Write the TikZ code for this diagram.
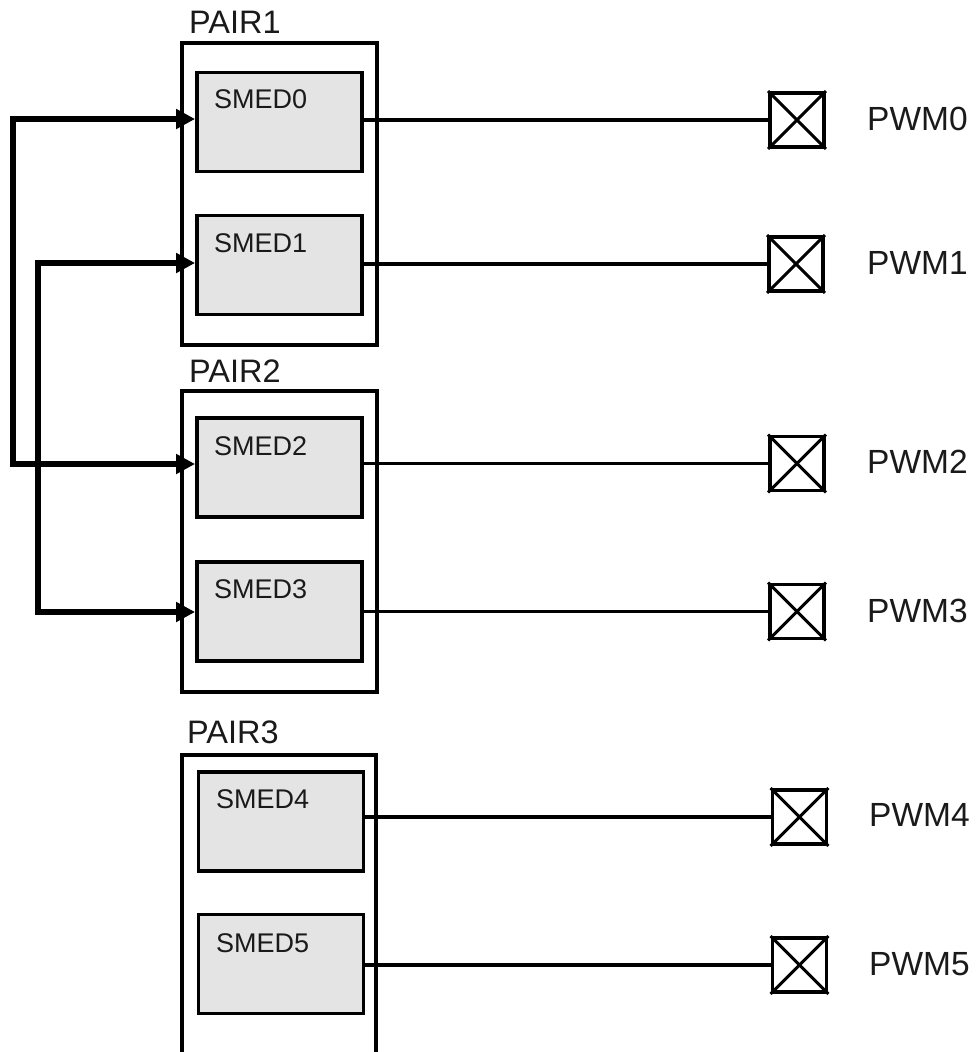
\documentclass[tikz,border=0pt]{standalone}
\usepackage{fontspec}
\setmainfont{Liberation Sans}
\usetikzlibrary{arrows.meta}
\definecolor{ink}{HTML}{1A1A1A}
\definecolor{smedfill}{HTML}{E4E4E4}
\tikzset{
  pairbox/.style={draw=black, line width=3.3pt, minimum width=195pt, inner sep=0pt},
  smedbox/.style={draw=black, fill=smedfill, line width=3.8pt, minimum width=165pt, minimum height=99pt, inner sep=0pt},
  pwmbox/.style={draw=black, line width=3.8pt, minimum width=54pt, minimum height=54pt, inner sep=0pt},
  pairtxt/.style={anchor=base west, inner sep=0pt, text=ink, font=\fontsize{32.5}{38}\selectfont},
  smedtxt/.style={anchor=base west, inner sep=0pt, text=ink, font=\fontsize{27}{32}\selectfont},
  pwmtxt/.style={anchor=base west, inner sep=0pt, text=ink, font=\fontsize{33.5}{40}\selectfont},
  sig/.style={line width=3.1pt},
  crossline/.style={line width=3pt},
  bus/.style={line width=5.5pt, line join=miter, {Triangle[length=19pt,width=19pt]}-{Triangle[length=19pt,width=19pt]}}
}
\begin{document}
\begin{tikzpicture}[x=1pt,y=-1pt]
\clip (0,0) rectangle (975,1052);
\fill[white] (0,0) rectangle (975,1052);

% pair frames
\node[pairbox, minimum height=302pt] (pair1) at (279.5,194) {};
\node[pairbox, minimum height=301pt] (pair2) at (279.5,541.5) {};
\node[pairbox, minimum height=310pt, minimum width=194pt] (pair3) at (279,910) {};
\node[pairtxt] (pl1) at (189,33) {PAIR1};
\node[pairtxt] (pl2) at (189,382) {PAIR2};
\node[pairtxt] (pl3) at (187,743) {PAIR3};

% SMED units
\node[smedbox] (s0) at (279.5,122) {};
\node[smedbox] (s1) at (279.5,265) {};
\node[smedbox] (s2) at (279.5,467.5) {};
\node[smedbox] (s3) at (279.5,611.5) {};
\node[smedbox] (s4) at (281,821.5) {};
\node[smedbox] (s5) at (281,964) {};
\node[smedtxt] (t0) at (214,108) {SMED0};
\node[smedtxt] (t1) at (214,252) {SMED1};
\node[smedtxt] (t2) at (214,455) {SMED2};
\node[smedtxt] (t3) at (214,598) {SMED3};
\node[smedtxt] (t4) at (216,808) {SMED4};
\node[smedtxt] (t5) at (216,952) {SMED5};

% PWM pins
\node[pwmbox] (p0) at (797,120) {};
\node[pwmbox] (p1) at (796,264) {};
\node[pwmbox] (p2) at (797,463.5) {};
\node[pwmbox] (p3) at (797,611.5) {};
\node[pwmbox] (p4) at (799.5,817) {};
\node[pwmbox] (p5) at (799.5,965) {};
\foreach \p in {p0,p1,p2,p3,p4,p5}{
  \draw[crossline] (\p.north west) -- (\p.south east);
  \draw[crossline] (\p.south west) -- (\p.north east);
}
\node[pwmtxt] (w0) at (867,130) {PWM0};
\node[pwmtxt] (w1) at (867,274) {PWM1};
\node[pwmtxt] (w2) at (867,473) {PWM2};
\node[pwmtxt] (w3) at (867,622) {PWM3};
\node[pwmtxt] (w4) at (869,826) {PWM4};
\node[pwmtxt] (w5) at (869,975) {PWM5};

% outputs
\foreach \i in {0,...,5}{
  \draw[sig] (p\i.west -| s\i.east) -- (p\i.west);
}

% shared inputs
\coordinate (ba) at (13,119);
\coordinate (bb) at (13,464);
\coordinate (bc) at (38,263);
\coordinate (bd) at (38,612);
\draw[bus] (ba -| s0.west) -- (ba) -- (bb) -- (bb -| s2.west);
\draw[bus] (bc -| s1.west) -- (bc) -- (bd) -- (bd -| s3.west);
\end{tikzpicture}
\end{document}
